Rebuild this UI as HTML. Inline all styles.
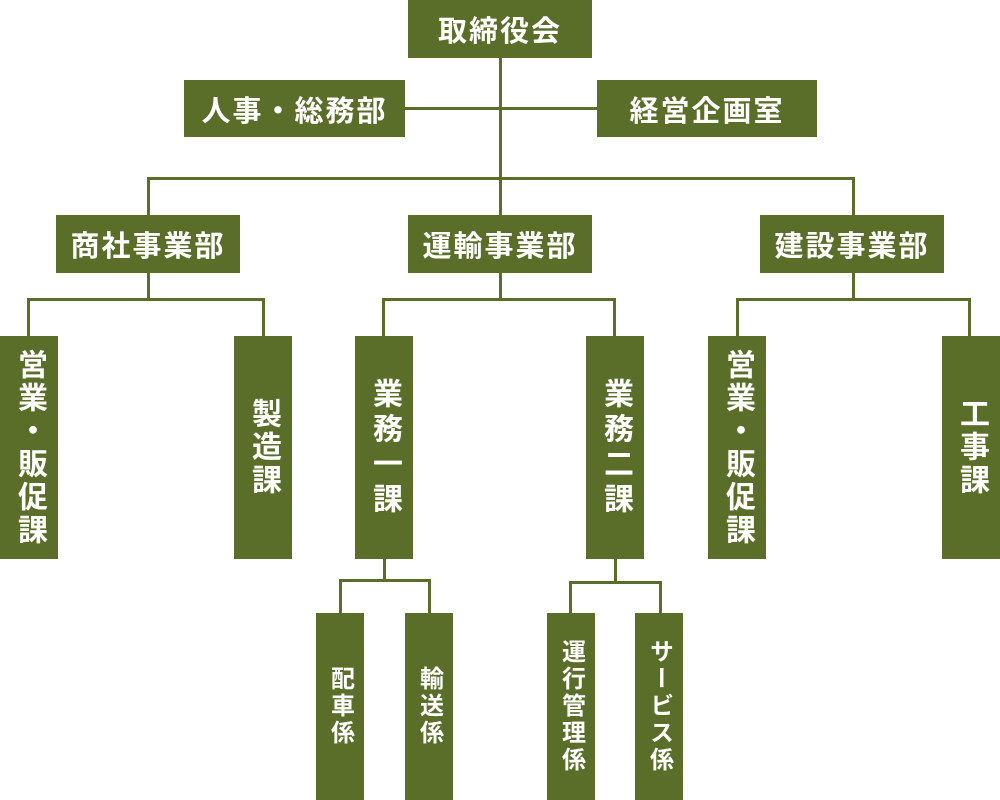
<!DOCTYPE html>
<html><head><meta charset="utf-8"><style>
body{margin:0;width:1000px;height:800px;background:#fff;position:relative;overflow:hidden;font-family:"Liberation Sans","Noto Sans CJK JP",sans-serif;}
.b{position:absolute;background:#5a6e2a;color:#fff;font-weight:bold;display:flex;align-items:center;justify-content:center;}
.h{font-size:29px;letter-spacing:2px;}
.v{writing-mode:vertical-rl;font-size:30px;letter-spacing:3px;}
.s{writing-mode:vertical-rl;font-size:24px;letter-spacing:3px;}
.l{position:absolute;background:#5a6e2a;}
</style></head><body>
<div class="l" style="left:499px;top:58px;width:3px;height:122px"></div>
<div class="l" style="left:405px;top:107px;width:192px;height:3px"></div>
<div class="l" style="left:147px;top:177px;width:708px;height:3px"></div>
<div class="l" style="left:147px;top:177px;width:3px;height:38px"></div>
<div class="l" style="left:852px;top:177px;width:3px;height:38px"></div>
<div class="l" style="left:499px;top:177px;width:3px;height:38px"></div>

<div class="l" style="left:147px;top:273px;width:3px;height:28px"></div>
<div class="l" style="left:27px;top:298px;width:238px;height:3px"></div>
<div class="l" style="left:27px;top:298px;width:3px;height:38px"></div>
<div class="l" style="left:262px;top:298px;width:3px;height:38px"></div>

<div class="l" style="left:499px;top:273px;width:3px;height:28px"></div>
<div class="l" style="left:382px;top:298px;width:234px;height:3px"></div>
<div class="l" style="left:382px;top:298px;width:3px;height:38px"></div>
<div class="l" style="left:613px;top:298px;width:3px;height:38px"></div>

<div class="l" style="left:852px;top:273px;width:3px;height:28px"></div>
<div class="l" style="left:736px;top:298px;width:235px;height:3px"></div>
<div class="l" style="left:736px;top:298px;width:3px;height:38px"></div>
<div class="l" style="left:968px;top:298px;width:3px;height:38px"></div>

<div class="l" style="left:383px;top:558px;width:3px;height:23px"></div>
<div class="l" style="left:339px;top:579px;width:92px;height:3px"></div>
<div class="l" style="left:339px;top:579px;width:3px;height:34px"></div>
<div class="l" style="left:428px;top:579px;width:3px;height:34px"></div>

<div class="l" style="left:614px;top:558px;width:3px;height:25px"></div>
<div class="l" style="left:569px;top:581px;width:93px;height:3px"></div>
<div class="l" style="left:569px;top:581px;width:3px;height:32px"></div>
<div class="l" style="left:659px;top:581px;width:3px;height:32px"></div>

<div class="b h" style="left:408px;top:0;width:184px;height:58px">取締役会</div>
<div class="b h" style="left:184px;top:80px;width:221px;height:57px">人事・総務部</div>
<div class="b h" style="left:597px;top:80px;width:220px;height:57px">経営企画室</div>
<div class="b h" style="left:56px;top:215px;width:184px;height:58px">商社事業部</div>
<div class="b h" style="left:408px;top:215px;width:184px;height:58px">運輸事業部</div>
<div class="b h" style="left:760px;top:215px;width:184px;height:58px">建設事業部</div>

<div class="b v" style="left:0;top:336px;width:58px;height:223px">営業・販促課</div>
<div class="b v" style="left:234px;top:336px;width:58px;height:223px">製造課</div>
<div class="b v" style="left:355px;top:336px;width:58px;height:223px;letter-spacing:5px">業務一課</div>
<div class="b v" style="left:586px;top:336px;width:58px;height:223px;letter-spacing:5px">業務二課</div>
<div class="b v" style="left:708px;top:336px;width:58px;height:223px">営業・販促課</div>
<div class="b v" style="left:942px;top:336px;width:58px;height:223px">工事課</div>

<div class="b s" style="left:316px;top:613px;width:48px;height:187px">配車係</div>
<div class="b s" style="left:405px;top:613px;width:48px;height:187px">輸送係</div>
<div class="b s" style="left:547px;top:613px;width:48px;height:187px">運行管理係</div>
<div class="b s" style="left:635px;top:613px;width:48px;height:187px">サービス係</div>
</body></html>
